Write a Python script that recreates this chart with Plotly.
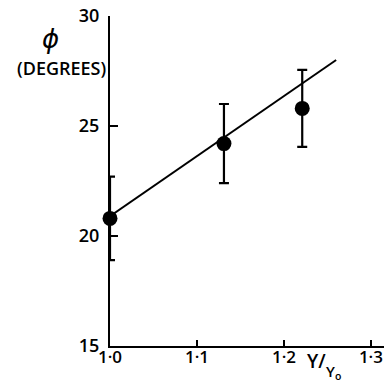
import plotly.graph_objects as go

# Data
x_vals = [1.0, 1.131, 1.221]
phi_vals = [20.8, 24.2, 25.8]
err_vals = [1.9, 1.8, 1.75]
fit_x = [1.0, 1.26]
fit_y = [20.9, 28.0]
x_ticks = [1.0, 1.1, 1.2, 1.3]
x_tick_labels = ["1·0", "1·1", "1·2", "1·3"]
y_ticks = [15, 20, 25, 30]
y_tick_labels = ["15", "20", "25", "30"]

FONT = "Open Sans"
L, R, T, B = 110, 0, 16, 38
W = H = 384
pw, ph = W - L - R, H - T - B

def px(x):
    return (x - L) / pw

def py(y):
    return (H - B - y) / ph

y_tick_font = dict(size=18, family=FONT, weight=600, color="black")
x_tick_font = dict(size=17, family=FONT, weight=600, color="black")

def ann(x, y, text, font):
    return dict(x=px(x), y=py(y), xref="paper", yref="paper", text=text,
                showarrow=False, xanchor="center", yanchor="middle", font=font)

fig = go.Figure()
fig.add_trace(go.Scatter(
    x=fit_x, y=fit_y, mode="lines",
    line=dict(color="black", width=2), cliponaxis=False, showlegend=False))
fig.add_trace(go.Scatter(
    x=x_vals, y=phi_vals, mode="markers",
    marker=dict(color="black", size=15),
    error_y=dict(type="data", array=err_vals, visible=True,
                 color="black", thickness=2.2, width=5),
    cliponaxis=False, showlegend=False))

fig.update_layout(
    width=W, height=H,
    margin=dict(l=L, r=R, t=T, b=B, autoexpand=False),
    paper_bgcolor="white", plot_bgcolor="white",
    font=dict(family=FONT, color="black", size=17),
    xaxis=dict(range=[1.0, 1.315], showgrid=False, zeroline=False,
               automargin=False,
               showline=True, linecolor="black", linewidth=2,
               ticks="inside", ticklen=6, tickwidth=2, tickcolor="black",
               tickvals=x_ticks, ticktext=x_tick_labels,
               tickfont=x_tick_font, ticklabelstandoff=-5),
    yaxis=dict(range=[15, 30], showgrid=False, zeroline=False,
               automargin=False,
               showline=True, linecolor="black", linewidth=2,
               ticks="inside", ticklen=8, tickwidth=2, tickcolor="black",
               tickvals=y_ticks, ticktext=y_tick_labels,
               tickfont=y_tick_font, ticklabelstandoff=5),
    annotations=[
        ann(50, 39, "<i>ϕ</i>", dict(size=26, family="DejaVu Sans")),
        ann(61, 68, "(DEGREES)", dict(size=18, family=FONT, weight=600)),
        ann(316, 361, "Y/", dict(size=19, family=FONT, weight=600)),
        ann(333, 372, "Y<sub>o</sub>", dict(size=15, family=FONT, weight=600)),
    ],
)

fig.write_html("out.html", post_script="document.body.style.margin='0';",
               config={"displayModeBar": False})
